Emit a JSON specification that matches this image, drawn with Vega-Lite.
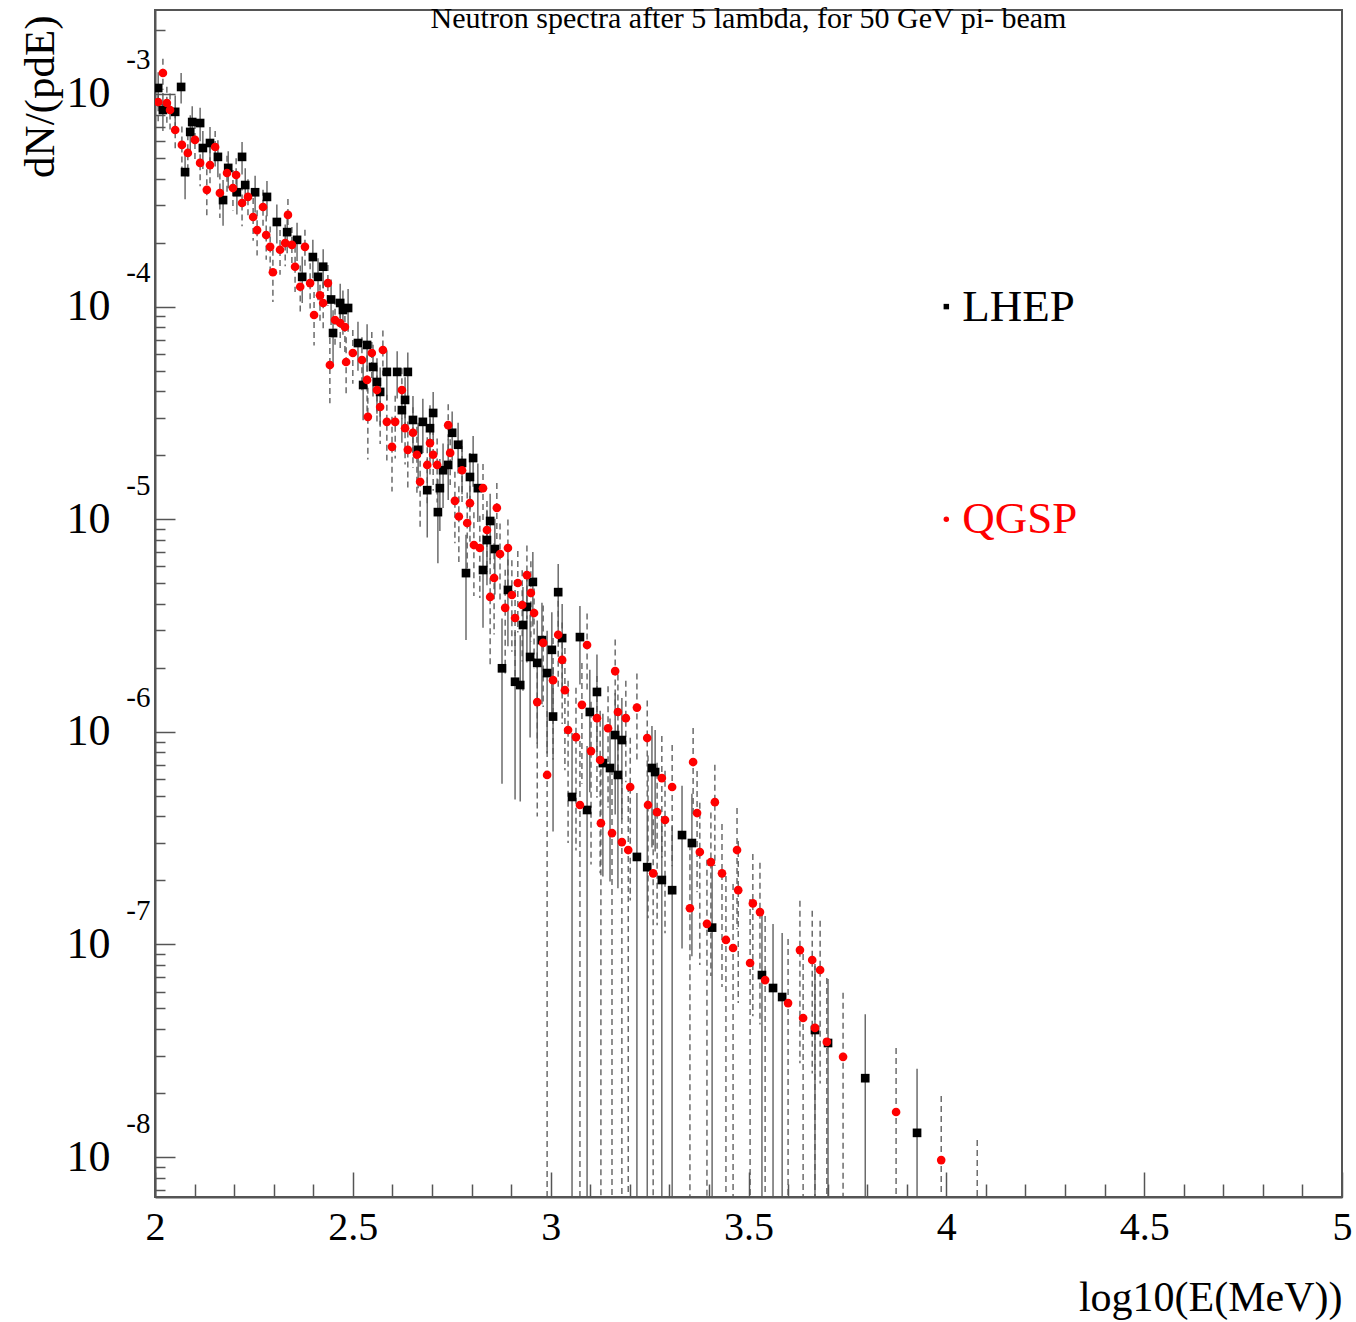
{
"$schema": "https://vega.github.io/schema/vega-lite/v6.json",
"width": 1187, "height": 1187,
"autosize": {"type": "none"},
"padding": {"left": 155, "top": 10, "right": 14, "bottom": 125},
"background": "white",
"title": {"text": "Neutron spectra after 5 lambda, for 50 GeV pi- beam", "font": "Liberation Serif", "fontSize": 30, "fontWeight": "normal", "color": "black", "anchor": "middle", "frame": "group", "orient": "top", "offset": -24},
"config": {
  "view": {"stroke": "#555", "strokeWidth": 2},
  "axis": {"grid": false, "labelFont": "Liberation Serif", "titleFont": "Liberation Serif", "labelColor": "black", "titleColor": "black", "domainColor": "#555", "domainWidth": 2, "tickColor": "#555", "tickWidth": 1.5, "labelFlush": false, "labelOverlap": false, "labelBound": false}
},
"datasets": {
"pts": [
{"m":"LHEP","x":2.008,"y":1.067e-3,"lo":8.69e-4,"hi":1.265e-3},
{"m":"LHEP","x":2.020,"y":8.41e-4,"lo":6.70e-4,"hi":1.012e-3},
{"m":"LHEP","x":2.051,"y":8.24e-4,"lo":6.65e-4,"hi":9.83e-4},
{"m":"LHEP","x":2.066,"y":1.079e-3,"lo":9.03e-4,"hi":1.255e-3},
{"m":"LHEP","x":2.076,"y":4.29e-4,"lo":3.20e-4,"hi":5.38e-4},
{"m":"LHEP","x":2.089,"y":6.63e-4,"lo":5.31e-4,"hi":7.95e-4},
{"m":"LHEP","x":2.094,"y":7.38e-4,"lo":6.00e-4,"hi":8.76e-4},
{"m":"LHEP","x":2.114,"y":7.30e-4,"lo":5.99e-4,"hi":8.61e-4},
{"m":"LHEP","x":2.121,"y":5.57e-4,"lo":4.44e-4,"hi":6.70e-4},
{"m":"LHEP","x":2.139,"y":5.88e-4,"lo":4.76e-4,"hi":7.00e-4},
{"m":"LHEP","x":2.159,"y":5.06e-4,"lo":4.06e-4,"hi":6.06e-4},
{"m":"LHEP","x":2.172,"y":3.17e-4,"lo":2.40e-4,"hi":3.94e-4},
{"m":"LHEP","x":2.185,"y":4.49e-4,"lo":3.60e-4,"hi":5.38e-4},
{"m":"LHEP","x":2.207,"y":3.45e-4,"lo":2.71e-4,"hi":4.19e-4},
{"m":"LHEP","x":2.220,"y":5.06e-4,"lo":4.18e-4,"hi":5.94e-4},
{"m":"LHEP","x":2.228,"y":3.73e-4,"lo":2.99e-4,"hi":4.47e-4},
{"m":"LHEP","x":2.253,"y":3.45e-4,"lo":2.77e-4,"hi":4.13e-4},
{"m":"LHEP","x":2.283,"y":3.28e-4,"lo":2.66e-4,"hi":3.90e-4},
{"m":"LHEP","x":2.308,"y":2.50e-4,"lo":1.98e-4,"hi":3.02e-4},
{"m":"LHEP","x":2.334,"y":2.24e-4,"lo":1.78e-4,"hi":2.70e-4},
{"m":"LHEP","x":2.359,"y":2.06e-4,"lo":1.64e-4,"hi":2.48e-4},
{"m":"LHEP","x":2.372,"y":1.38e-4,"lo":1.04e-4,"hi":1.72e-4},
{"m":"LHEP","x":2.399,"y":1.71e-4,"lo":1.36e-4,"hi":2.06e-4},
{"m":"LHEP","x":2.412,"y":1.38e-4,"lo":1.07e-4,"hi":1.69e-4},
{"m":"LHEP","x":2.425,"y":1.54e-4,"lo":1.22e-4,"hi":1.86e-4},
{"m":"LHEP","x":2.445,"y":1.08e-4,"lo":8.2e-5,"hi":1.34e-4},
{"m":"LHEP","x":2.450,"y":7.51e-5,"lo":5.40e-5,"hi":9.62e-5},
{"m":"LHEP","x":2.468,"y":1.04e-4,"lo":8.0e-5,"hi":1.28e-4},
{"m":"LHEP","x":2.475,"y":9.64e-5,"lo":7.37e-5,"hi":1.19e-4},
{"m":"LHEP","x":2.488,"y":9.85e-5,"lo":7.61e-5,"hi":1.21e-4},
{"m":"LHEP","x":2.513,"y":6.74e-5,"lo":4.99e-5,"hi":8.49e-5},
{"m":"LHEP","x":2.526,"y":4.28e-5,"lo":2.92e-5,"hi":5.64e-5},
{"m":"LHEP","x":2.536,"y":6.60e-5,"lo":4.94e-5,"hi":8.26e-5},
{"m":"LHEP","x":2.551,"y":5.20e-5,"lo":3.78e-5,"hi":6.62e-5},
{"m":"LHEP","x":2.561,"y":4.42e-5,"lo":3.13e-5,"hi":5.71e-5},
{"m":"LHEP","x":2.569,"y":3.97e-5,"lo":2.77e-5,"hi":5.17e-5},
{"m":"LHEP","x":2.586,"y":4.93e-5,"lo":3.64e-5,"hi":6.22e-5},
{"m":"LHEP","x":2.612,"y":4.93e-5,"lo":3.70e-5,"hi":6.16e-5},
{"m":"LHEP","x":2.624,"y":3.26e-5,"lo":2.29e-5,"hi":4.23e-5},
{"m":"LHEP","x":2.632,"y":3.64e-5,"lo":2.63e-5,"hi":4.65e-5},
{"m":"LHEP","x":2.639,"y":4.93e-5,"lo":3.77e-5,"hi":6.09e-5},
{"m":"LHEP","x":2.652,"y":2.93e-5,"lo":2.06e-5,"hi":3.80e-5},
{"m":"LHEP","x":2.665,"y":2.12e-5,"lo":1.40e-5,"hi":2.84e-5},
{"m":"LHEP","x":2.677,"y":2.87e-5,"lo":2.05e-5,"hi":3.69e-5},
{"m":"LHEP","x":2.688,"y":1.37e-5,"lo":8.2e-6,"hi":1.92e-5},
{"m":"LHEP","x":2.695,"y":2.68e-5,"lo":1.92e-5,"hi":3.44e-5},
{"m":"LHEP","x":2.703,"y":3.16e-5,"lo":2.35e-5,"hi":3.97e-5},
{"m":"LHEP","x":2.715,"y":1.08e-5,"lo":6.2e-6,"hi":1.54e-5},
{"m":"LHEP","x":2.720,"y":1.40e-5,"lo":8.8e-6,"hi":1.92e-5},
{"m":"LHEP","x":2.728,"y":1.70e-5,"lo":1.13e-5,"hi":2.27e-5},
{"m":"LHEP","x":2.741,"y":1.80e-5,"lo":1.23e-5,"hi":2.37e-5},
{"m":"LHEP","x":2.751,"y":2.55e-5,"lo":1.89e-5,"hi":3.21e-5},
{"m":"LHEP","x":2.766,"y":2.24e-5,"lo":1.64e-5,"hi":2.84e-5},
{"m":"LHEP","x":2.776,"y":1.84e-5,"lo":1.31e-5,"hi":2.37e-5},
{"m":"LHEP","x":2.786,"y":5.58e-6,"lo":2.70e-6,"hi":8.46e-6},
{"m":"LHEP","x":2.796,"y":1.58e-5,"lo":1.11e-5,"hi":2.05e-5},
{"m":"LHEP","x":2.804,"y":1.94e-5,"lo":1.42e-5,"hi":2.46e-5},
{"m":"LHEP","x":2.816,"y":1.40e-5,"lo":9.7e-6,"hi":1.83e-5},
{"m":"LHEP","x":2.829,"y":5.77e-6,"lo":3.09e-6,"hi":8.45e-6},
{"m":"LHEP","x":2.839,"y":7.98e-6,"lo":4.89e-6,"hi":1.107e-5},
{"m":"LHEP","x":2.847,"y":9.81e-6,"lo":6.45e-6,"hi":1.317e-5},
{"m":"LHEP","x":2.859,"y":7.24e-6,"lo":4.42e-6,"hi":1.006e-5},
{"m":"LHEP","x":2.877,"y":1.99e-6,"lo":5.7e-7,"hi":3.41e-6},
{"m":"LHEP","x":2.892,"y":4.65e-6,"lo":2.53e-6,"hi":6.77e-6},
{"m":"LHEP","x":2.910,"y":1.72e-6,"lo":4.8e-7,"hi":2.96e-6},
{"m":"LHEP","x":2.923,"y":1.66e-6,"lo":4.7e-7,"hi":2.85e-6},
{"m":"LHEP","x":2.930,"y":3.18e-6,"lo":1.56e-6,"hi":4.80e-6},
{"m":"LHEP","x":2.940,"y":3.87e-6,"lo":2.12e-6,"hi":5.62e-6},
{"m":"LHEP","x":2.948,"y":2.25e-6,"lo":9.4e-7,"hi":3.56e-6},
{"m":"LHEP","x":2.955,"y":5.07e-6,"lo":3.13e-6,"hi":7.01e-6},
{"m":"LHEP","x":2.966,"y":2.11e-6,"lo":8.8e-7,"hi":3.34e-6},
{"m":"LHEP","x":2.978,"y":2.70e-6,"lo":1.35e-6,"hi":4.05e-6},
{"m":"LHEP","x":2.991,"y":1.89e-6,"lo":7.9e-7,"hi":2.99e-6},
{"m":"LHEP","x":3.003,"y":2.43e-6,"lo":1.22e-6,"hi":3.65e-6},
{"m":"LHEP","x":3.006,"y":1.18e-6,"lo":3.4e-7,"hi":2.02e-6},
{"m":"LHEP","x":3.019,"y":4.54e-6,"lo":2.93e-6,"hi":6.15e-6},
{"m":"LHEP","x":3.029,"y":2.76e-6,"lo":1.53e-6,"hi":3.99e-6},
{"m":"LHEP","x":3.054,"y":4.94e-7,"lo":1e-12,"hi":9.88e-7},
{"m":"LHEP","x":3.074,"y":2.79e-6,"lo":1.67e-6,"hi":3.91e-6},
{"m":"LHEP","x":3.092,"y":4.29e-7,"lo":1e-12,"hi":8.58e-7},
{"m":"LHEP","x":3.099,"y":1.24e-6,"lo":5.2e-7,"hi":1.96e-6},
{"m":"LHEP","x":3.117,"y":1.54e-6,"lo":7.7e-7,"hi":2.31e-6},
{"m":"LHEP","x":3.132,"y":7.13e-7,"lo":2.09e-7,"hi":1.217e-6},
{"m":"LHEP","x":3.150,"y":6.76e-7,"lo":1.98e-7,"hi":1.154e-6},
{"m":"LHEP","x":3.163,"y":9.66e-7,"lo":4.08e-7,"hi":1.524e-6},
{"m":"LHEP","x":3.170,"y":6.27e-7,"lo":1.84e-7,"hi":1.070e-6},
{"m":"LHEP","x":3.180,"y":9.15e-7,"lo":3.87e-7,"hi":1.443e-6},
{"m":"LHEP","x":3.218,"y":2.58e-7,"lo":1e-12,"hi":5.16e-7},
{"m":"LHEP","x":3.244,"y":2.31e-7,"lo":1e-12,"hi":4.62e-7},
{"m":"LHEP","x":3.256,"y":6.76e-7,"lo":2.86e-7,"hi":1.066e-6},
{"m":"LHEP","x":3.264,"y":6.47e-7,"lo":2.74e-7,"hi":1.020e-6},
{"m":"LHEP","x":3.281,"y":2.01e-7,"lo":1e-12,"hi":4.02e-7},
{"m":"LHEP","x":3.307,"y":1.80e-7,"lo":1e-12,"hi":3.60e-7},
{"m":"LHEP","x":3.332,"y":3.27e-7,"lo":9.58e-8,"hi":5.58e-7},
{"m":"LHEP","x":3.357,"y":3.00e-7,"lo":8.79e-8,"hi":5.12e-7},
{"m":"LHEP","x":3.408,"y":1.20e-7,"lo":1e-12,"hi":2.40e-7},
{"m":"LHEP","x":3.534,"y":7.18e-8,"lo":1e-12,"hi":1.436e-7},
{"m":"LHEP","x":3.562,"y":6.24e-8,"lo":1e-12,"hi":1.248e-7},
{"m":"LHEP","x":3.585,"y":5.66e-8,"lo":1e-12,"hi":1.132e-7},
{"m":"LHEP","x":3.668,"y":3.96e-8,"lo":1e-12,"hi":7.92e-8},
{"m":"LHEP","x":3.701,"y":3.44e-8,"lo":1e-12,"hi":6.88e-8},
{"m":"LHEP","x":3.795,"y":2.35e-8,"lo":1e-12,"hi":4.70e-8},
{"m":"LHEP","x":3.926,"y":1.30e-8,"lo":1e-12,"hi":2.60e-8},
{"m":"QGSP","x":2.008,"y":9.17e-4,"lo":7.35e-4,"hi":1.099e-3},
{"m":"QGSP","x":2.020,"y":1.255e-3,"lo":1.047e-3,"hi":1.463e-3},
{"m":"QGSP","x":2.030,"y":9.07e-4,"lo":7.33e-4,"hi":1.081e-3},
{"m":"QGSP","x":2.038,"y":8.41e-4,"lo":6.76e-4,"hi":1.006e-3},
{"m":"QGSP","x":2.051,"y":6.77e-4,"lo":5.33e-4,"hi":8.21e-4},
{"m":"QGSP","x":2.068,"y":5.76e-4,"lo":4.49e-4,"hi":7.03e-4},
{"m":"QGSP","x":2.083,"y":5.28e-4,"lo":4.09e-4,"hi":6.47e-4},
{"m":"QGSP","x":2.101,"y":6.08e-4,"lo":4.85e-4,"hi":7.31e-4},
{"m":"QGSP","x":2.114,"y":4.74e-4,"lo":3.68e-4,"hi":5.80e-4},
{"m":"QGSP","x":2.131,"y":3.54e-4,"lo":2.66e-4,"hi":4.42e-4},
{"m":"QGSP","x":2.139,"y":4.63e-4,"lo":3.64e-4,"hi":5.62e-4},
{"m":"QGSP","x":2.152,"y":5.63e-4,"lo":4.56e-4,"hi":6.70e-4},
{"m":"QGSP","x":2.164,"y":3.42e-4,"lo":2.61e-4,"hi":4.23e-4},
{"m":"QGSP","x":2.182,"y":4.25e-4,"lo":3.38e-4,"hi":5.12e-4},
{"m":"QGSP","x":2.197,"y":3.61e-4,"lo":2.83e-4,"hi":4.39e-4},
{"m":"QGSP","x":2.205,"y":4.16e-4,"lo":3.34e-4,"hi":4.98e-4},
{"m":"QGSP","x":2.220,"y":3.07e-4,"lo":2.39e-4,"hi":3.75e-4},
{"m":"QGSP","x":2.235,"y":3.28e-4,"lo":2.59e-4,"hi":3.97e-4},
{"m":"QGSP","x":2.248,"y":2.64e-4,"lo":2.04e-4,"hi":3.24e-4},
{"m":"QGSP","x":2.258,"y":2.29e-4,"lo":1.74e-4,"hi":2.84e-4},
{"m":"QGSP","x":2.273,"y":2.94e-4,"lo":2.34e-4,"hi":3.54e-4},
{"m":"QGSP","x":2.281,"y":2.17e-4,"lo":1.66e-4,"hi":2.68e-4},
{"m":"QGSP","x":2.291,"y":1.91e-4,"lo":1.44e-4,"hi":2.38e-4},
{"m":"QGSP","x":2.298,"y":1.45e-4,"lo":1.05e-4,"hi":1.85e-4},
{"m":"QGSP","x":2.316,"y":1.85e-4,"lo":1.41e-4,"hi":2.29e-4},
{"m":"QGSP","x":2.329,"y":1.99e-4,"lo":1.55e-4,"hi":2.43e-4},
{"m":"QGSP","x":2.336,"y":2.70e-4,"lo":2.19e-4,"hi":3.21e-4},
{"m":"QGSP","x":2.346,"y":1.95e-4,"lo":1.53e-4,"hi":2.37e-4},
{"m":"QGSP","x":2.354,"y":1.54e-4,"lo":1.17e-4,"hi":1.91e-4},
{"m":"QGSP","x":2.367,"y":1.24e-4,"lo":9.2e-5,"hi":1.56e-4},
{"m":"QGSP","x":2.379,"y":1.91e-4,"lo":1.52e-4,"hi":2.30e-4},
{"m":"QGSP","x":2.392,"y":1.29e-4,"lo":9.8e-5,"hi":1.60e-4},
{"m":"QGSP","x":2.402,"y":9.13e-5,"lo":6.56e-5,"hi":1.170e-4},
{"m":"QGSP","x":2.417,"y":1.13e-4,"lo":8.5e-5,"hi":1.41e-4},
{"m":"QGSP","x":2.425,"y":1.04e-4,"lo":7.8e-5,"hi":1.30e-4},
{"m":"QGSP","x":2.437,"y":1.29e-4,"lo":1.01e-4,"hi":1.57e-4},
{"m":"QGSP","x":2.442,"y":5.31e-5,"lo":3.51e-5,"hi":7.11e-5},
{"m":"QGSP","x":2.455,"y":8.65e-5,"lo":6.42e-5,"hi":1.088e-4},
{"m":"QGSP","x":2.468,"y":8.37e-5,"lo":6.22e-5,"hi":1.052e-4},
{"m":"QGSP","x":2.480,"y":8.02e-5,"lo":5.97e-5,"hi":1.007e-4},
{"m":"QGSP","x":2.483,"y":5.49e-5,"lo":3.80e-5,"hi":7.18e-5},
{"m":"QGSP","x":2.500,"y":6.05e-5,"lo":4.34e-5,"hi":7.76e-5},
{"m":"QGSP","x":2.523,"y":5.61e-5,"lo":4.04e-5,"hi":7.18e-5},
{"m":"QGSP","x":2.536,"y":4.52e-5,"lo":3.15e-5,"hi":5.89e-5},
{"m":"QGSP","x":2.538,"y":3.03e-5,"lo":1.91e-5,"hi":4.15e-5},
{"m":"QGSP","x":2.548,"y":6.05e-5,"lo":4.51e-5,"hi":7.59e-5},
{"m":"QGSP","x":2.561,"y":4.05e-5,"lo":2.82e-5,"hi":5.28e-5},
{"m":"QGSP","x":2.569,"y":3.37e-5,"lo":2.26e-5,"hi":4.48e-5},
{"m":"QGSP","x":2.576,"y":6.25e-5,"lo":4.77e-5,"hi":7.73e-5},
{"m":"QGSP","x":2.586,"y":2.87e-5,"lo":1.89e-5,"hi":3.85e-5},
{"m":"QGSP","x":2.599,"y":2.19e-5,"lo":1.35e-5,"hi":3.03e-5},
{"m":"QGSP","x":2.607,"y":2.87e-5,"lo":1.93e-5,"hi":3.81e-5},
{"m":"QGSP","x":2.624,"y":4.05e-5,"lo":2.97e-5,"hi":5.13e-5},
{"m":"QGSP","x":2.632,"y":2.68e-5,"lo":1.81e-5,"hi":3.55e-5},
{"m":"QGSP","x":2.639,"y":2.12e-5,"lo":1.36e-5,"hi":2.88e-5},
{"m":"QGSP","x":2.652,"y":2.55e-5,"lo":1.74e-5,"hi":3.36e-5},
{"m":"QGSP","x":2.662,"y":2.01e-5,"lo":1.30e-5,"hi":2.72e-5},
{"m":"QGSP","x":2.670,"y":1.50e-5,"lo":9.0e-6,"hi":2.10e-5},
{"m":"QGSP","x":2.688,"y":1.80e-5,"lo":1.17e-5,"hi":2.43e-5},
{"m":"QGSP","x":2.695,"y":2.28e-5,"lo":1.58e-5,"hi":2.98e-5},
{"m":"QGSP","x":2.703,"y":2.01e-5,"lo":1.36e-5,"hi":2.66e-5},
{"m":"QGSP","x":2.713,"y":1.80e-5,"lo":1.20e-5,"hi":2.40e-5},
{"m":"QGSP","x":2.741,"y":2.77e-5,"lo":2.07e-5,"hi":3.47e-5},
{"m":"QGSP","x":2.746,"y":2.05e-5,"lo":1.45e-5,"hi":2.65e-5},
{"m":"QGSP","x":2.758,"y":1.22e-5,"lo":7.7e-6,"hi":1.67e-5},
{"m":"QGSP","x":2.768,"y":1.03e-5,"lo":6.3e-6,"hi":1.43e-5},
{"m":"QGSP","x":2.776,"y":1.70e-5,"lo":1.19e-5,"hi":2.21e-5},
{"m":"QGSP","x":2.789,"y":9.60e-6,"lo":5.84e-6,"hi":1.336e-5},
{"m":"QGSP","x":2.796,"y":1.19e-5,"lo":7.8e-6,"hi":1.60e-5},
{"m":"QGSP","x":2.806,"y":7.56e-6,"lo":4.35e-6,"hi":1.077e-5},
{"m":"QGSP","x":2.821,"y":7.32e-6,"lo":4.26e-6,"hi":1.038e-5},
{"m":"QGSP","x":2.829,"y":1.40e-5,"lo":9.8e-6,"hi":1.82e-5},
{"m":"QGSP","x":2.839,"y":8.90e-6,"lo":5.63e-6,"hi":1.217e-5},
{"m":"QGSP","x":2.847,"y":4.31e-6,"lo":2.07e-6,"hi":6.55e-6},
{"m":"QGSP","x":2.857,"y":5.29e-6,"lo":2.87e-6,"hi":7.71e-6},
{"m":"QGSP","x":2.864,"y":1.13e-5,"lo":7.8e-6,"hi":1.48e-5},
{"m":"QGSP","x":2.872,"y":6.86e-6,"lo":4.18e-6,"hi":9.54e-6},
{"m":"QGSP","x":2.885,"y":3.83e-6,"lo":1.88e-6,"hi":5.78e-6},
{"m":"QGSP","x":2.892,"y":7.32e-6,"lo":4.67e-6,"hi":9.97e-6},
{"m":"QGSP","x":2.902,"y":4.40e-6,"lo":2.38e-6,"hi":6.42e-6},
{"m":"QGSP","x":2.910,"y":3.43e-6,"lo":1.68e-6,"hi":5.18e-6},
{"m":"QGSP","x":2.917,"y":5.01e-6,"lo":2.93e-6,"hi":7.09e-6},
{"m":"QGSP","x":2.928,"y":3.95e-6,"lo":2.14e-6,"hi":5.76e-6},
{"m":"QGSP","x":2.940,"y":5.46e-6,"lo":3.39e-6,"hi":7.53e-6},
{"m":"QGSP","x":2.950,"y":4.50e-6,"lo":2.65e-6,"hi":6.35e-6},
{"m":"QGSP","x":2.958,"y":3.62e-6,"lo":1.98e-6,"hi":5.26e-6},
{"m":"QGSP","x":2.966,"y":1.38e-6,"lo":4.0e-7,"hi":2.36e-6},
{"m":"QGSP","x":2.981,"y":2.62e-6,"lo":1.31e-6,"hi":3.93e-6},
{"m":"QGSP","x":2.991,"y":6.27e-7,"lo":1e-12,"hi":1.254e-6},
{"m":"QGSP","x":3.006,"y":1.75e-6,"lo":7.4e-7,"hi":2.76e-6},
{"m":"QGSP","x":3.019,"y":2.86e-6,"lo":1.58e-6,"hi":4.14e-6},
{"m":"QGSP","x":3.029,"y":2.18e-6,"lo":1.09e-6,"hi":3.27e-6},
{"m":"QGSP","x":3.036,"y":1.57e-6,"lo":6.6e-7,"hi":2.48e-6},
{"m":"QGSP","x":3.044,"y":1.02e-6,"lo":3.0e-7,"hi":1.74e-6},
{"m":"QGSP","x":3.064,"y":9.45e-7,"lo":2.77e-7,"hi":1.613e-6},
{"m":"QGSP","x":3.074,"y":4.53e-7,"lo":1e-12,"hi":9.06e-7},
{"m":"QGSP","x":3.079,"y":1.34e-6,"lo":5.7e-7,"hi":2.11e-6},
{"m":"QGSP","x":3.092,"y":2.56e-6,"lo":1.52e-6,"hi":3.60e-6},
{"m":"QGSP","x":3.102,"y":8.12e-7,"lo":2.38e-7,"hi":1.386e-6},
{"m":"QGSP","x":3.117,"y":1.16e-6,"lo":4.9e-7,"hi":1.83e-6},
{"m":"QGSP","x":3.125,"y":7.37e-7,"lo":2.16e-7,"hi":1.258e-6},
{"m":"QGSP","x":3.127,"y":3.72e-7,"lo":1e-12,"hi":7.44e-7},
{"m":"QGSP","x":3.145,"y":1.04e-6,"lo":4.4e-7,"hi":1.64e-6},
{"m":"QGSP","x":3.155,"y":3.34e-7,"lo":1e-12,"hi":6.68e-7},
{"m":"QGSP","x":3.163,"y":1.93e-6,"lo":1.14e-6,"hi":2.72e-6},
{"m":"QGSP","x":3.170,"y":1.24e-6,"lo":6.2e-7,"hi":1.86e-6},
{"m":"QGSP","x":3.180,"y":3.03e-7,"lo":1e-12,"hi":6.06e-7},
{"m":"QGSP","x":3.190,"y":1.16e-6,"lo":5.8e-7,"hi":1.74e-6},
{"m":"QGSP","x":3.196,"y":2.78e-7,"lo":1e-12,"hi":5.56e-7},
{"m":"QGSP","x":3.201,"y":5.50e-7,"lo":1.61e-7,"hi":9.39e-7},
{"m":"QGSP","x":3.218,"y":1.30e-6,"lo":7.2e-7,"hi":1.88e-6},
{"m":"QGSP","x":3.244,"y":9.35e-7,"lo":4.68e-7,"hi":1.403e-6},
{"m":"QGSP","x":3.246,"y":4.53e-7,"lo":1.33e-7,"hi":7.73e-7},
{"m":"QGSP","x":3.259,"y":2.16e-7,"lo":1e-12,"hi":4.32e-7},
{"m":"QGSP","x":3.269,"y":4.19e-7,"lo":1.23e-7,"hi":7.15e-7},
{"m":"QGSP","x":3.281,"y":6.06e-7,"lo":2.56e-7,"hi":9.56e-7},
{"m":"QGSP","x":3.289,"y":3.85e-7,"lo":1.13e-7,"hi":6.57e-7},
{"m":"QGSP","x":3.307,"y":5.50e-7,"lo":2.33e-7,"hi":8.67e-7},
{"m":"QGSP","x":3.352,"y":1.48e-7,"lo":1e-12,"hi":2.96e-7},
{"m":"QGSP","x":3.360,"y":7.21e-7,"lo":3.99e-7,"hi":1.043e-6},
{"m":"QGSP","x":3.370,"y":4.15e-7,"lo":1.76e-7,"hi":6.54e-7},
{"m":"QGSP","x":3.377,"y":2.72e-7,"lo":8.0e-8,"hi":4.64e-7},
{"m":"QGSP","x":3.395,"y":1.25e-7,"lo":1e-12,"hi":2.50e-7},
{"m":"QGSP","x":3.405,"y":2.44e-7,"lo":7.1e-8,"hi":4.17e-7},
{"m":"QGSP","x":3.415,"y":4.67e-7,"lo":2.34e-7,"hi":7.01e-7},
{"m":"QGSP","x":3.433,"y":2.16e-7,"lo":6.3e-8,"hi":3.69e-7},
{"m":"QGSP","x":3.443,"y":1.05e-7,"lo":1e-12,"hi":2.10e-7},
{"m":"QGSP","x":3.461,"y":9.62e-8,"lo":1e-12,"hi":1.924e-7},
{"m":"QGSP","x":3.471,"y":2.78e-7,"lo":1.18e-7,"hi":4.38e-7},
{"m":"QGSP","x":3.474,"y":1.80e-7,"lo":5.3e-8,"hi":3.07e-7},
{"m":"QGSP","x":3.504,"y":8.18e-8,"lo":1e-12,"hi":1.636e-7},
{"m":"QGSP","x":3.511,"y":1.56e-7,"lo":4.6e-8,"hi":2.66e-7},
{"m":"QGSP","x":3.529,"y":1.42e-7,"lo":4.2e-8,"hi":2.42e-7},
{"m":"QGSP","x":3.542,"y":6.80e-8,"lo":1e-12,"hi":1.36e-7},
{"m":"QGSP","x":3.600,"y":5.30e-8,"lo":1e-12,"hi":1.06e-7},
{"m":"QGSP","x":3.630,"y":9.41e-8,"lo":2.76e-8,"hi":1.606e-7},
{"m":"QGSP","x":3.638,"y":4.51e-8,"lo":1e-12,"hi":9.02e-8},
{"m":"QGSP","x":3.661,"y":8.45e-8,"lo":2.47e-8,"hi":1.442e-7},
{"m":"QGSP","x":3.668,"y":4.05e-8,"lo":1e-12,"hi":8.10e-8},
{"m":"QGSP","x":3.681,"y":7.58e-8,"lo":2.22e-8,"hi":1.294e-7},
{"m":"QGSP","x":3.698,"y":3.48e-8,"lo":1e-12,"hi":6.96e-8},
{"m":"QGSP","x":3.739,"y":2.96e-8,"lo":1e-12,"hi":5.92e-8},
{"m":"QGSP","x":3.873,"y":1.63e-8,"lo":1e-12,"hi":3.26e-8},
{"m":"QGSP","x":3.987,"y":9.68e-9,"lo":1e-12,"hi":1.936e-8},
{"m":"QGSP","x":4.078,"y":6.02e-9,"lo":1e-12,"hi":1.204e-8}
],
"leg": [
{"m":"LHEP","x":4.0,"y":1e-4},
{"m":"QGSP","x":4.0,"y":1e-5}
]
},
"resolve": {"axis": {"x": "independent", "y": "independent"}},
"layer": [
{
  "data": {"name": "pts"},
  "mark": {"type": "rule", "clip": true, "strokeWidth": 1.3, "color": "#555"},
  "encoding": {
    "x": {"field": "x", "type": "quantitative", "scale": {"domain": [2, 5], "nice": false, "zero": false},
      "axis": {"orient": "bottom", "values": [2, 2.5, 3, 3.5, 4, 4.5, 5], "labelExpr": "'' + datum.value", "tickSize": -25, "labelFontSize": 40, "labelPadding": 35, "title": "log10(E(MeV))", "titleFontSize": 42, "titleFontWeight": "normal", "titleX": 1187, "titleY": 100, "titleAlign": "right", "titleBaseline": "middle"}},
    "y": {"field": "hi", "type": "quantitative", "scale": {"type": "log", "domain": [6.49e-9, 2.483e-3], "nice": false},
      "axis": {"orient": "left", "values": [1e-8, 1e-7, 1e-6, 1e-5, 1e-4, 1e-3], "labelExpr": "'10'", "tickSize": -20, "labelFontSize": 44, "labelPadding": 65, "labelBaseline": "middle", "title": "dN/(pdE)", "titleFontSize": 43, "titleFontWeight": "normal", "titleX": -115, "titleY": 5, "titleAlign": "right", "titleAngle": -90, "titleBaseline": "middle"}},
    "y2": {"field": "lo"},
    "strokeDash": {"field": "m", "type": "nominal", "scale": {"domain": ["LHEP", "QGSP"], "range": [[1, 0], [6, 4]]}, "legend": null}
  }
},
{
  "data": {"name": "pts"},
  "mark": {"type": "point", "filled": true, "clip": true, "opacity": 1, "size": 75},
  "encoding": {
    "x": {"field": "x", "type": "quantitative", "scale": {"domain": [2, 5], "nice": false, "zero": false},
      "axis": {"orient": "bottom", "values": [2.1,2.2,2.3,2.4,2.6,2.7,2.8,2.9,3.1,3.2,3.3,3.4,3.6,3.7,3.8,3.9,4.1,4.2,4.3,4.4,4.6,4.7,4.8,4.9], "tickSize": -13, "labels": false, "domain": false, "title": null}},
    "y": {"field": "y", "type": "quantitative", "scale": {"type": "log", "domain": [6.49e-9, 2.483e-3], "nice": false},
      "axis": {"orient": "left", "values": [1e-8, 1e-7, 1e-6, 1e-5, 1e-4, 1e-3], "labelExpr": "'' + round(log(datum.value)/LN10)", "ticks": false, "domain": false, "labelFontSize": 29, "labelPadding": 5, "labelOffset": -34, "labelBaseline": "middle", "title": null}},
    "color": {"field": "m", "type": "nominal", "scale": {"domain": ["LHEP", "QGSP"], "range": ["black", "#ff0000"]}, "legend": null},
    "shape": {"field": "m", "type": "nominal", "scale": {"domain": ["LHEP", "QGSP"], "range": ["square", "circle"]}, "legend": null}
  }
},
{
  "data": {"name": "leg"},
  "mark": {"type": "text", "align": "left", "baseline": "middle", "dx": 16, "font": "Liberation Serif", "fontSize": 45},
  "encoding": {
    "x": {"field": "x", "type": "quantitative", "scale": {"domain": [2, 5], "nice": false, "zero": false}, "axis": null},
    "y": {"field": "y", "type": "quantitative", "scale": {"type": "log", "domain": [6.49e-9, 2.483e-3], "nice": false},
      "axis": {"orient": "left", "values": [7e-9,8e-9,9e-9,2e-8,3e-8,4e-8,5e-8,6e-8,7e-8,8e-8,9e-8,2e-7,3e-7,4e-7,5e-7,6e-7,7e-7,8e-7,9e-7,2e-6,3e-6,4e-6,5e-6,6e-6,7e-6,8e-6,9e-6,2e-5,3e-5,4e-5,5e-5,6e-5,7e-5,8e-5,9e-5,2e-4,3e-4,4e-4,5e-4,6e-4,7e-4,8e-4,9e-4,2e-3], "tickSize": -10, "labels": false, "domain": false, "title": null}},
    "text": {"field": "m", "type": "nominal"},
    "color": {"field": "m", "type": "nominal", "scale": {"domain": ["LHEP", "QGSP"], "range": ["black", "#ff0000"]}, "legend": null}
  }
},
{
  "data": {"name": "leg"},
  "mark": {"type": "point", "filled": true, "size": 30, "opacity": 1},
  "encoding": {
    "x": {"field": "x", "type": "quantitative", "scale": {"domain": [2, 5], "nice": false, "zero": false}, "axis": null},
    "y": {"field": "y", "type": "quantitative", "scale": {"type": "log", "domain": [6.49e-9, 2.483e-3], "nice": false}, "axis": null},
    "color": {"field": "m", "type": "nominal", "scale": {"domain": ["LHEP", "QGSP"], "range": ["black", "#ff0000"]}, "legend": null},
    "shape": {"field": "m", "type": "nominal", "scale": {"domain": ["LHEP", "QGSP"], "range": ["square", "circle"]}, "legend": null}
  }
}
]
}
